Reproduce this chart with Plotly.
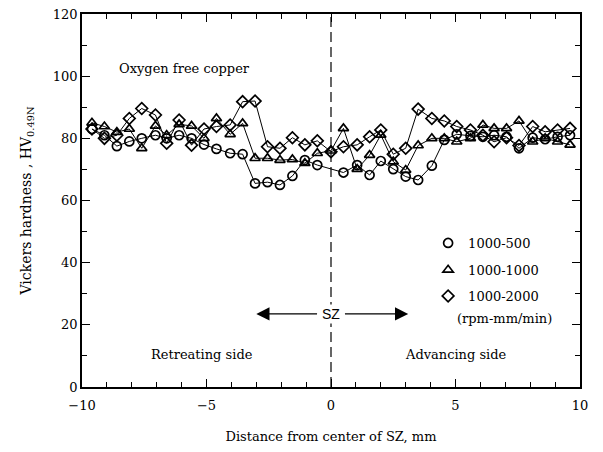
import plotly.graph_objects as go

# Positions along the weld (mm)
x_pos = [-9.6, -9.1, -8.6, -8.1, -7.6, -7.05, -6.6, -6.1, -5.6, -5.1,
         -4.6, -4.05, -3.55, -3.05, -2.55, -2.05, -1.55, -1.05, -0.55, 0.0,
         0.5, 1.05, 1.55, 2.0, 2.5, 3.0, 3.5, 4.05, 4.55, 5.05,
         5.6, 6.1, 6.55, 7.05, 7.55, 8.1, 8.6, 9.1, 9.6]

hv_1000_500 = [83, 81, 77.5, 79, 80, 81, 80, 81, 80, 78,
               76.6, 75.2, 74.9, 65.5, 65.9, 65.0, 67.9, 73.0, 71.4, None,
               69.0, 71.4, 68.2, 72.7, 70.1, 67.7, 66.6, 71.2, 79.5, 81.3,
               80.8, 80.5, 81, 80.5, 76.8, 80.2, 79.7, 80.5, 81]

hv_1000_1000 = [85, 83.8, 82, 83, 76.8, 84, 81, 84.5, 84, 80,
                86.4, 81.3, 84.8, 73.6, 73.6, 73.0, 73.2, 72.0, 75.2, 76,
                83.2, 70.1, 74.6, 81.1, 72.5, 69.8, 77.7, 80.0, 80, 78.9,
                80.0, 84.3, 83.2, 83.2, 85.6, 78.9, 80.0, 78.9, 77.9]

hv_1000_2000 = [83, 80, 81, 86.4, 89.6, 87.5, 78.4, 85.9, 77.8, 83,
                83.8, 84.3, 91.8, 92.0, 77.3, 76.8, 80.2, 77.9, 79.2, 75.7,
                77.3, 77.9, 80.5, 82.7, 74.9, 76.8, 89.4, 86.4, 85.6, 83.8,
                82.7, 81, 78.9, 80.2, 77.7, 83.8, 82.1, 82.7, 83.2]

series_names = ["1000-500", "1000-1000", "1000-2000"]
series_vals = [hv_1000_500, hv_1000_1000, hv_1000_2000]
symbols = ["circle-open", "triangle-up-open", "diamond-open"]
legend_ids = ["legend", "legend2", "legend3"]

FONT = "DejaVu Serif"
fig = go.Figure()

for name, vals, sym in zip(series_names, series_vals, symbols):
    fig.add_trace(go.Scatter(
        x=x_pos, y=vals, mode="lines+markers", connectgaps=True,
        line=dict(color="black", width=1),
        marker=dict(symbol=sym, size=9, color="black", line=dict(width=1.7, color="black")),
        showlegend=False, name=name))

# legend-only marker entries (one legend each, to match the wide spacing)
for name, sym, lid in zip(series_names, symbols, legend_ids):
    fig.add_trace(go.Scatter(
        x=[None], y=[None], mode="markers", name=name, legend=lid,
        marker=dict(symbol=sym, size=9, color="black", line=dict(width=1.7, color="black"))))

# centre dashed line
fig.add_shape(type="line", x0=0, x1=0, y0=0, y1=120, xref="x", yref="y",
              line=dict(color="black", width=1.2, dash="10px,5px"))

ann_font = dict(family=FONT, size=13, color="black")
fig.add_annotation(x=-5.9, y=102.5, text="Oxygen free copper", showarrow=False, font=ann_font)
fig.add_annotation(x=-5.2, y=10.5, text="Retreating side", showarrow=False, font=ann_font)
fig.add_annotation(x=5.0, y=10.5, text="Advancing side", showarrow=False, font=ann_font)
fig.add_annotation(x=0, y=23.5, text="SZ", showarrow=False,
                   font=dict(family="Liberation Sans", size=14, color="black"), bgcolor="white")
fig.add_annotation(x=-3.0, y=23.5, ax=-0.5, ay=23.5, axref="x", ayref="y", xref="x", yref="y",
                   text="", showarrow=True, arrowhead=2, arrowsize=2.2, arrowwidth=1.2, arrowcolor="black")
fig.add_annotation(x=3.1, y=23.5, ax=0.5, ay=23.5, axref="x", ayref="y", xref="x", yref="y",
                   text="", showarrow=True, arrowhead=2, arrowsize=2.2, arrowwidth=1.2, arrowcolor="black")
fig.add_annotation(x=6.95, y=22, text="(rpm-mm/min)", showarrow=False,
                   font=dict(family=FONT, size=13, color="black"))

axis_common = dict(showline=True, linecolor="black", linewidth=1.5, mirror="allticks",
                   ticks="inside", tickcolor="black", tickwidth=1.2, ticklen=8,
                   showgrid=False, zeroline=False, automargin=False,
                   tickfont=dict(family=FONT, size=13, color="black"))

fig.update_xaxes(range=[-10, 10], dtick=5, tick0=0, ticklabelstandoff=6,
                 minor=dict(dtick=1, ticks="inside", ticklen=5, tickcolor="black", tickwidth=1),
                 title=dict(text="Distance from center of SZ, mm", font=dict(family=FONT, size=13, color="black"),
                            standoff=20),
                 **axis_common)
fig.update_yaxes(range=[0, 120], dtick=20, tick0=0,
                 minor=dict(dtick=10, ticks="inside", ticklen=5, tickcolor="black", tickwidth=1),
                 title=dict(text="Vickers hardness , HV<sub>0.49N</sub>", font=dict(family=FONT, size=14, color="black"),
                            standoff=18),
                 **axis_common)

leg_common = dict(x=0.695, xanchor="left", yanchor="middle", bgcolor="rgba(0,0,0,0)",
                  font=dict(family=FONT, size=13, color="black"), itemwidth=30)
fig.update_layout(
    width=603, height=452,
    margin=dict(l=82, r=23, t=14, b=65),
    plot_bgcolor="white", paper_bgcolor="white",
    legend=dict(y=0.386, **leg_common),
    legend2=dict(y=0.314, **leg_common),
    legend3=dict(y=0.244, **leg_common),
)

fig.write_html("out.html")
